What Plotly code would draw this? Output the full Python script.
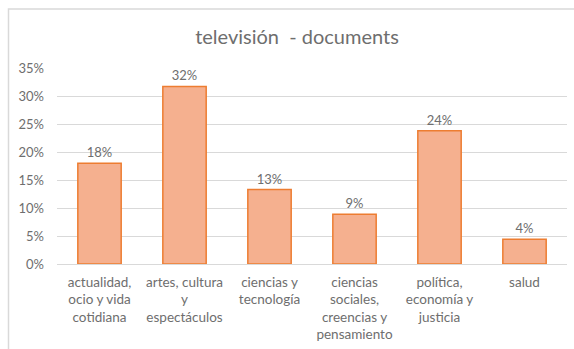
import plotly.graph_objects as go

categories = [
    "actualidad,<br>ocio y vida<br>cotidiana",
    "artes, cultura<br>y<br>espectáculos",
    "ciencias y<br>tecnología",
    "ciencias<br>sociales,<br>creencias y<br>pensamiento",
    "política,<br>economía y<br>justicia",
    "salud",
]
shares = [0.180, 0.317, 0.133, 0.089, 0.238, 0.044]
y_ticks = [0, 0.05, 0.10, 0.15, 0.20, 0.25, 0.30, 0.35]
y_tick_labels = ["0%", "5%", "10%", "15%", "20%", "25%", "30%", "35%"]
title_text = "televisión  - documents"

GREY = "#6E6E6E"
FONT = "Lato, 'Open Sans', sans-serif"

fig = go.Figure(
    go.Bar(
        x=categories,
        y=shares,
        marker=dict(color="#F5B08F", line=dict(color="#ED7D31", width=1.5)),
        texttemplate="%{y:.0%}",
        textposition="outside",
        textfont=dict(color=GREY, size=13, family=FONT),
        cliponaxis=False,
    )
)

W, H = 574, 349
L, R, T, B = 57, 7, 68, 85
pw, ph = W - L - R, H - T - B


def px_x(x):
    return (x - L) / pw


def px_y(y):
    return (H - B - y) / ph


fig.update_layout(
    width=W,
    height=H,
    margin=dict(l=L, r=R, t=T, b=B),
    paper_bgcolor="white",
    plot_bgcolor="white",
    bargap=0.49,
    showlegend=False,
    font=dict(family=FONT, color=GREY, size=13),
    title=dict(
        text=title_text,
        x=px_x(297),
        xref="paper",
        xanchor="center",
        y=1 - 37 / H,
        yanchor="middle",
        font=dict(size=20, color=GREY, family=FONT),
    ),
    xaxis=dict(
        automargin=False,
        showgrid=False,
        showline=False,
        ticks="",
        ticklabelstandoff=8,
        tickfont=dict(size=13.5, color=GREY),
    ),
    yaxis=dict(
        automargin=False,
        range=[0, 0.35],
        tickvals=y_ticks,
        ticktext=y_tick_labels,
        showgrid=True,
        gridcolor="#D9D9D9",
        gridwidth=1,
        zeroline=True,
        zerolinecolor="#D9D9D9",
        zerolinewidth=1,
        ticks="",
        ticklabelstandoff=12,
        tickfont=dict(size=13, color=GREY),
    ),
    shapes=[
        dict(
            type="rect",
            xref="paper",
            yref="paper",
            x0=px_x(8.5),
            y0=px_y(360),
            x1=px_x(590),
            y1=px_y(9),
            line=dict(color="#D9D9D9", width=1.5),
            fillcolor="rgba(0,0,0,0)",
            layer="below",
        )
    ],
)

fig.write_html("out.html")
